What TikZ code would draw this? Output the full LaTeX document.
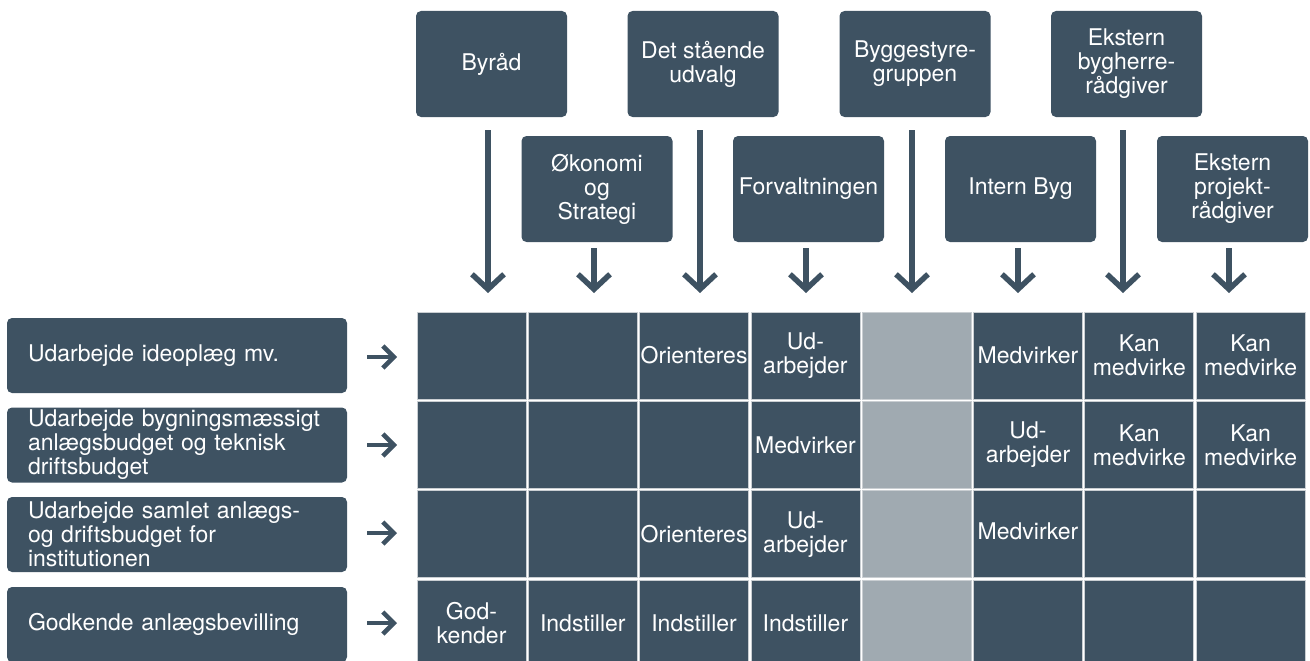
\documentclass[tikz,border=0pt]{standalone}
\usepackage{fontspec}
\setmainfont{TeX Gyre Heros}
\usetikzlibrary{arrows.meta}
\definecolor{slate}{HTML}{3E5262}
\definecolor{colgray}{HTML}{A0AAB1}
\definecolor{cellline}{HTML}{C9CED2}
\begin{document}
\begin{tikzpicture}[x=1pt,y=-1pt,
  txt/.style={text=white,font=\fontsize{23}{24}\selectfont,align=center,inner sep=0pt},
  actor/.style={txt,fill=slate,rounded corners=5pt,minimum width=151pt,minimum height=106pt},
  task/.style={txt,fill=slate,rounded corners=5pt,minimum width=340pt,minimum height=75pt,
    align=left,text width=298pt},
  cell/.style={fill=#1,draw=cellline,line width=0.8pt,minimum width=109pt,minimum height=87pt,inner sep=0pt},
  celltxt/.style={txt},
  varrow/.style={draw=slate,line width=5.5pt,-{Straight Barb[length=15pt,width=32pt]}},
  harrow/.style={draw=slate,line width=4.5pt,-{Straight Barb[length=11pt,width=22pt]}}]
\useasboundingbox (0,0) rectangle (1310,661);
\clip (0,0) rectangle (1310,661);

% actors, upper row
\node[actor] (byrad)      at (491.5,64) {Byråd};
\node[actor] (udvalg)     at (703,64)   {Det stående\\udvalg};
\node[actor] (byggestyre) at (915,64)   {Byggestyre-\\gruppen};
\node[actor] (bygherre)   at (1126.5,64){Ekstern\\bygherre-\\rådgiver};
% actors, lower row
\node[actor] (okonomi)     at (597,189)  {Økonomi\\og\\Strategi};
\node[actor] (forvaltning) at (808.5,189){Forvaltningen};
\node[actor] (internbyg)   at (1020.5,189){Intern Byg};
\node[actor] (projekt)     at (1232.5,189){Ekstern\\projekt-\\rådgiver};

% arrow tips above the matrix
\coordinate (a1) at (488,293);
\coordinate (a2) at (594,293);
\coordinate (a3) at (700,293);
\coordinate (a4) at (806,293);
\coordinate (a5) at (912,293);
\coordinate (a6) at (1018,293);
\coordinate (a7) at (1123,293);
\coordinate (a8) at (1229,293);

\draw[varrow,shorten <=13pt] (byrad.south -| a1) -- (a1);
\draw[varrow,shorten <=6pt] (okonomi.south -| a2) -- (a2);
\draw[varrow,shorten <=13pt] (udvalg.south -| a3) -- (a3);
\draw[varrow,shorten <=6pt] (forvaltning.south -| a4) -- (a4);
\draw[varrow,shorten <=13pt] (byggestyre.south -| a5) -- (a5);
\draw[varrow,shorten <=6pt] (internbyg.south -| a6) -- (a6);
\draw[varrow,shorten <=13pt] (bygherre.south -| a7) -- (a7);
\draw[varrow,shorten <=6pt] (projekt.south -| a8) -- (a8);

% tasks
\node[task] (task1) at (177,355.5) {Udarbejde ideoplæg mv.};
\node[task] (task2) at (177,445)   {Udarbejde bygningsmæssigt\\anlægsbudget og teknisk\\driftsbudget};
\node[task] (task3) at (177,534.5) {Udarbejde samlet anlægs-\\og driftsbudget for\\institutionen};
\node[task] (task4) at (177,624.5) {Godkende anlægsbevilling};

\coordinate (h1) at (397,357);
\coordinate (h2) at (397,445);
\coordinate (h3) at (397,533);
\coordinate (h4) at (397,623);
\draw[harrow,shorten <=20pt] (task1.east |- h1) -- (h1);
\draw[harrow,shorten <=20pt] (task2.east |- h2) -- (h2);
\draw[harrow,shorten <=20pt] (task3.east |- h3) -- (h3);
\draw[harrow,shorten <=20pt] (task4.east |- h4) -- (h4);

% responsibility matrix
\foreach \c/\f in {1/slate,2/slate,3/slate,4/slate,5/colgray,6/slate,7/slate,8/slate}
  \foreach \r in {1,...,4}
    \node[cell=\f] (c\r\c) at ({471.5+111.3*(\c-1)},{355.5+89.33*(\r-1)}) {};

\node[celltxt] (t13) at (c13) {Orienteres};
\node[celltxt] (t14) at (c14) {Ud-\\arbejder};
\node[celltxt] (t16) at (c16) {Medvirker};
\node[celltxt] (t17) at (c17) {Kan\\medvirke};
\node[celltxt] (t18) at (c18) {Kan\\medvirke};

\node[celltxt] (t24) at (c24) {Medvirker};
\node[celltxt] (t26) at (c26) {Ud-\\arbejder};
\node[celltxt] (t27) at (c27) {Kan\\medvirke};
\node[celltxt] (t28) at (c28) {Kan\\medvirke};

\node[celltxt] (t33) at (c33) {Orienteres};
\node[celltxt] (t34) at (c34) {Ud-\\arbejder};
\node[celltxt] (t36) at ([yshift=3pt]c36.center) {Medvirker};

\node[celltxt] (t41) at (c41) {God-\\kender};
\node[celltxt] (t42) at (c42) {Indstiller};
\node[celltxt] (t43) at (c43) {Indstiller};
\node[celltxt] (t44) at (c44) {Indstiller};
\end{tikzpicture}
\end{document}
